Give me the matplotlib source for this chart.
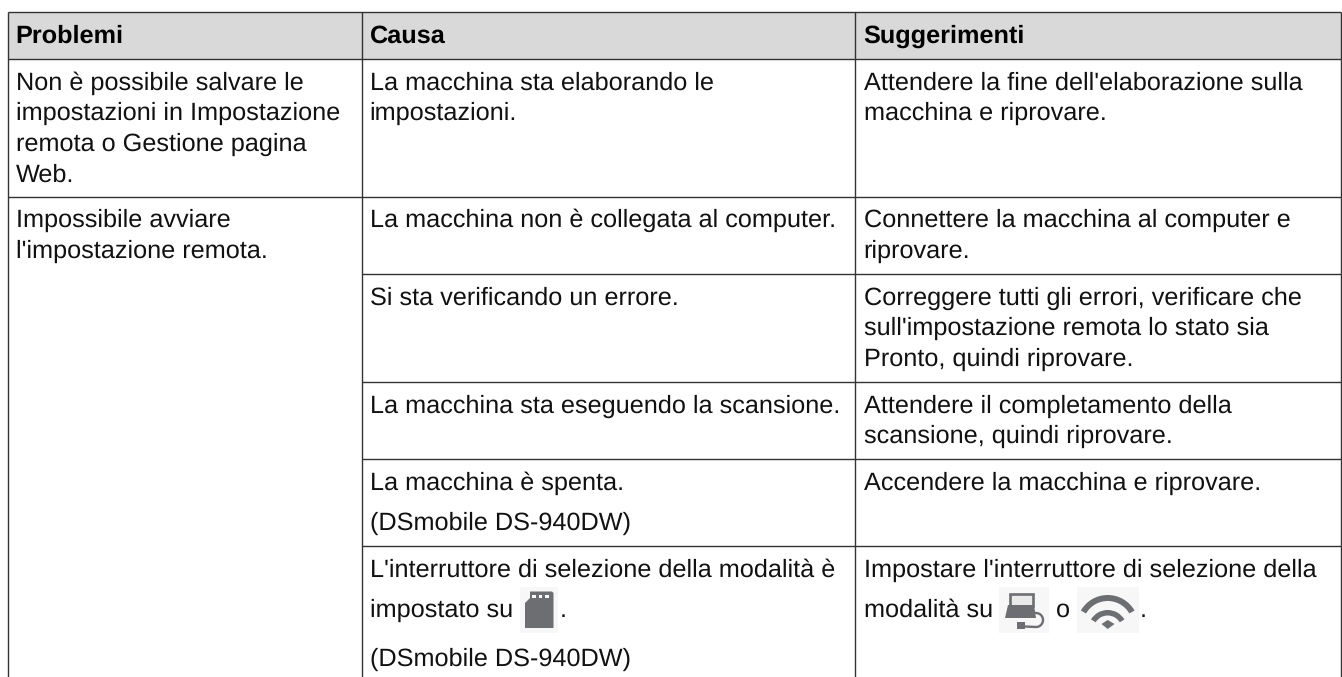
import matplotlib
matplotlib.use("Agg")
import matplotlib.pyplot as plt
from matplotlib.patches import Rectangle, Polygon, Wedge
import numpy as np

W, H = 1342, 677
plt.rcParams['font.family'] = ['Liberation Sans', 'DejaVu Sans']
plt.rcParams['text.hinting'] = 'none'
plt.rcParams['text.hinting_factor'] = 8

headers = ["Problemi", "Causa", "Suggerimenti"]
col_x = [7.5, 361.5, 854.5, 1340.5]
row_y = [12, 59, 196.5, 274, 382, 459, 546, 677]

problems = [
    (0, ["Non è possibile salvare le", "impostazioni in Impostazione", "remota o Gestione pagina", "Web."]),
    (1, ["Impossibile avviare", "l'impostazione remota."]),
]
causes = [
    (0, ["La macchina sta elaborando le", "impostazioni."]),
    (1, ["La macchina non è collegata al computer."]),
    (2, ["Si sta verificando un errore."]),
    (3, ["La macchina sta eseguendo la scansione."]),
]
spenta = ["La macchina è spenta.", "(DSmobile DS-940DW)"]
tips = [
    (0, ["Attendere la fine dell'elaborazione sulla", "macchina e riprovare."]),
    (1, ["Connettere la macchina al computer e", "riprovare."]),
    (2, ["Correggere tutti gli errori, verificare che", "sull'impostazione remota lo stato sia", "Pronto, quindi riprovare."]),
    (3, ["Attendere il completamento della", "scansione, quindi riprovare."]),
    (4, ["Accendere la macchina e riprovare."]),
]

fig = plt.figure(figsize=(W/100, H/100), dpi=100)
ax = fig.add_axes([0, 0, 1, 1])
ax.set_xlim(0, W); ax.set_ylim(H, 0); ax.axis('off')

LC = '#333333'; FS = 18.2; LH = 30.6; TC = '#111111'
ax.add_patch(Rectangle((col_x[0], row_y[0]), col_x[3]-col_x[0], row_y[1]-row_y[0], fc='#d9d9d9', ec='none'))

def hl(y, x0, x1):
    ax.plot([x0, x1], [y, y], color=LC, lw=1.0, solid_capstyle='butt')
def vl(x, y0, y1):
    ax.plot([x, x], [y0, y1], color=LC, lw=1.0, solid_capstyle='butt')

for y in row_y[:3]:
    hl(y, col_x[0], col_x[3])
for y in row_y[3:-1]:
    hl(y, col_x[1], col_x[3])
for x in col_x:
    vl(x, row_y[0], H)

TX = [16, 369.5, 863.5]
for x, h in zip([15.5, 369.5, 863], headers):
    ax.text(x, 42.5, h, fontsize=FS, fontweight='bold', color='black', va='baseline')

def block(x, row, lines, lh=LH):
    base = row_y[row+1] + 30.5
    for i, t in enumerate(lines):
        ax.text(x, base + i*lh, t, fontsize=FS, color=TC, va='baseline')

for r, l in problems: block(TX[0], r, l)
for r, l in causes: block(TX[1], r, l)
block(TX[1], 4, spenta, lh=40)
for r, l in tips: block(TX[2], r, l)

# last row with inline icons
R = row_y[6]
ax.text(TX[1], R+31, "L'interruttore di selezione della modalità è", fontsize=FS, color=TC)
ax.text(TX[1], R+71, "impostato su", fontsize=FS, color=TC)
ax.text(559.5, R+71, ".", fontsize=FS, color=TC)
ax.text(TX[1], R+120, "(DSmobile DS-940DW)", fontsize=FS, color=TC)
ax.text(TX[2], R+31, "Impostare l'interruttore di selezione della", fontsize=FS, color=TC)
ax.text(TX[2], R+71, "modalità su", fontsize=FS, color=TC)
ax.text(1055.5, R+71, "o", fontsize=FS, color=TC)
ax.text(1139.5, R+71, ".", fontsize=FS, color=TC)

IC = '#6d6e71'; BG = '#f7f7f7'
# SD card
ax.add_patch(Rectangle((520, 587), 38, 46, fc=BG, ec='none'))
ax.add_patch(Polygon([(530,591.5),(552,591.5),(553.5,593),(553.5,628),(525,628),(525,603),(530,598)], fc=IC, ec='none'))
for x in (532, 538.5, 545):
    ax.add_patch(Rectangle((x, 594.5), 3.5, 3.5, fc='white', ec='none'))
# laptop with cable
ax.add_patch(Rectangle((999, 587), 50, 46, fc=BG, ec='none'))
ax.add_patch(Rectangle((1009.5, 593.5), 23.5, 12, fc='#e9e9ea', ec=IC, lw=1.9))
ax.add_patch(Polygon([(1008,605),(1034,605),(1036,618),(1005,618)], fc=IC, ec='none'))
ax.add_patch(Rectangle((1017, 622), 8, 7, fc=IC, ec='none'))
th = np.linspace(-np.pi/2, np.pi/2, 30)
ax.plot(np.r_[1025, 1036 + 7*np.cos(th)], np.r_[626.5, 620 - 7*np.sin(th)], color=IC, lw=1.7)
# wifi
ax.add_patch(Rectangle((1077, 587), 62, 46, fc=BG, ec='none'))
ax.add_patch(Wedge((1107.7, 626), 31, 210, 330, width=6, fc=IC, ec='none'))
ax.add_patch(Wedge((1107.7, 629.5), 19.5, 211, 329, width=5.5, fc=IC, ec='none'))
ax.add_patch(Polygon([(1101.5,624),(1107.7,620),(1114.5,624),(1107.7,629)], fc=IC, ec='none'))

fig.savefig('out.png', dpi=100)
